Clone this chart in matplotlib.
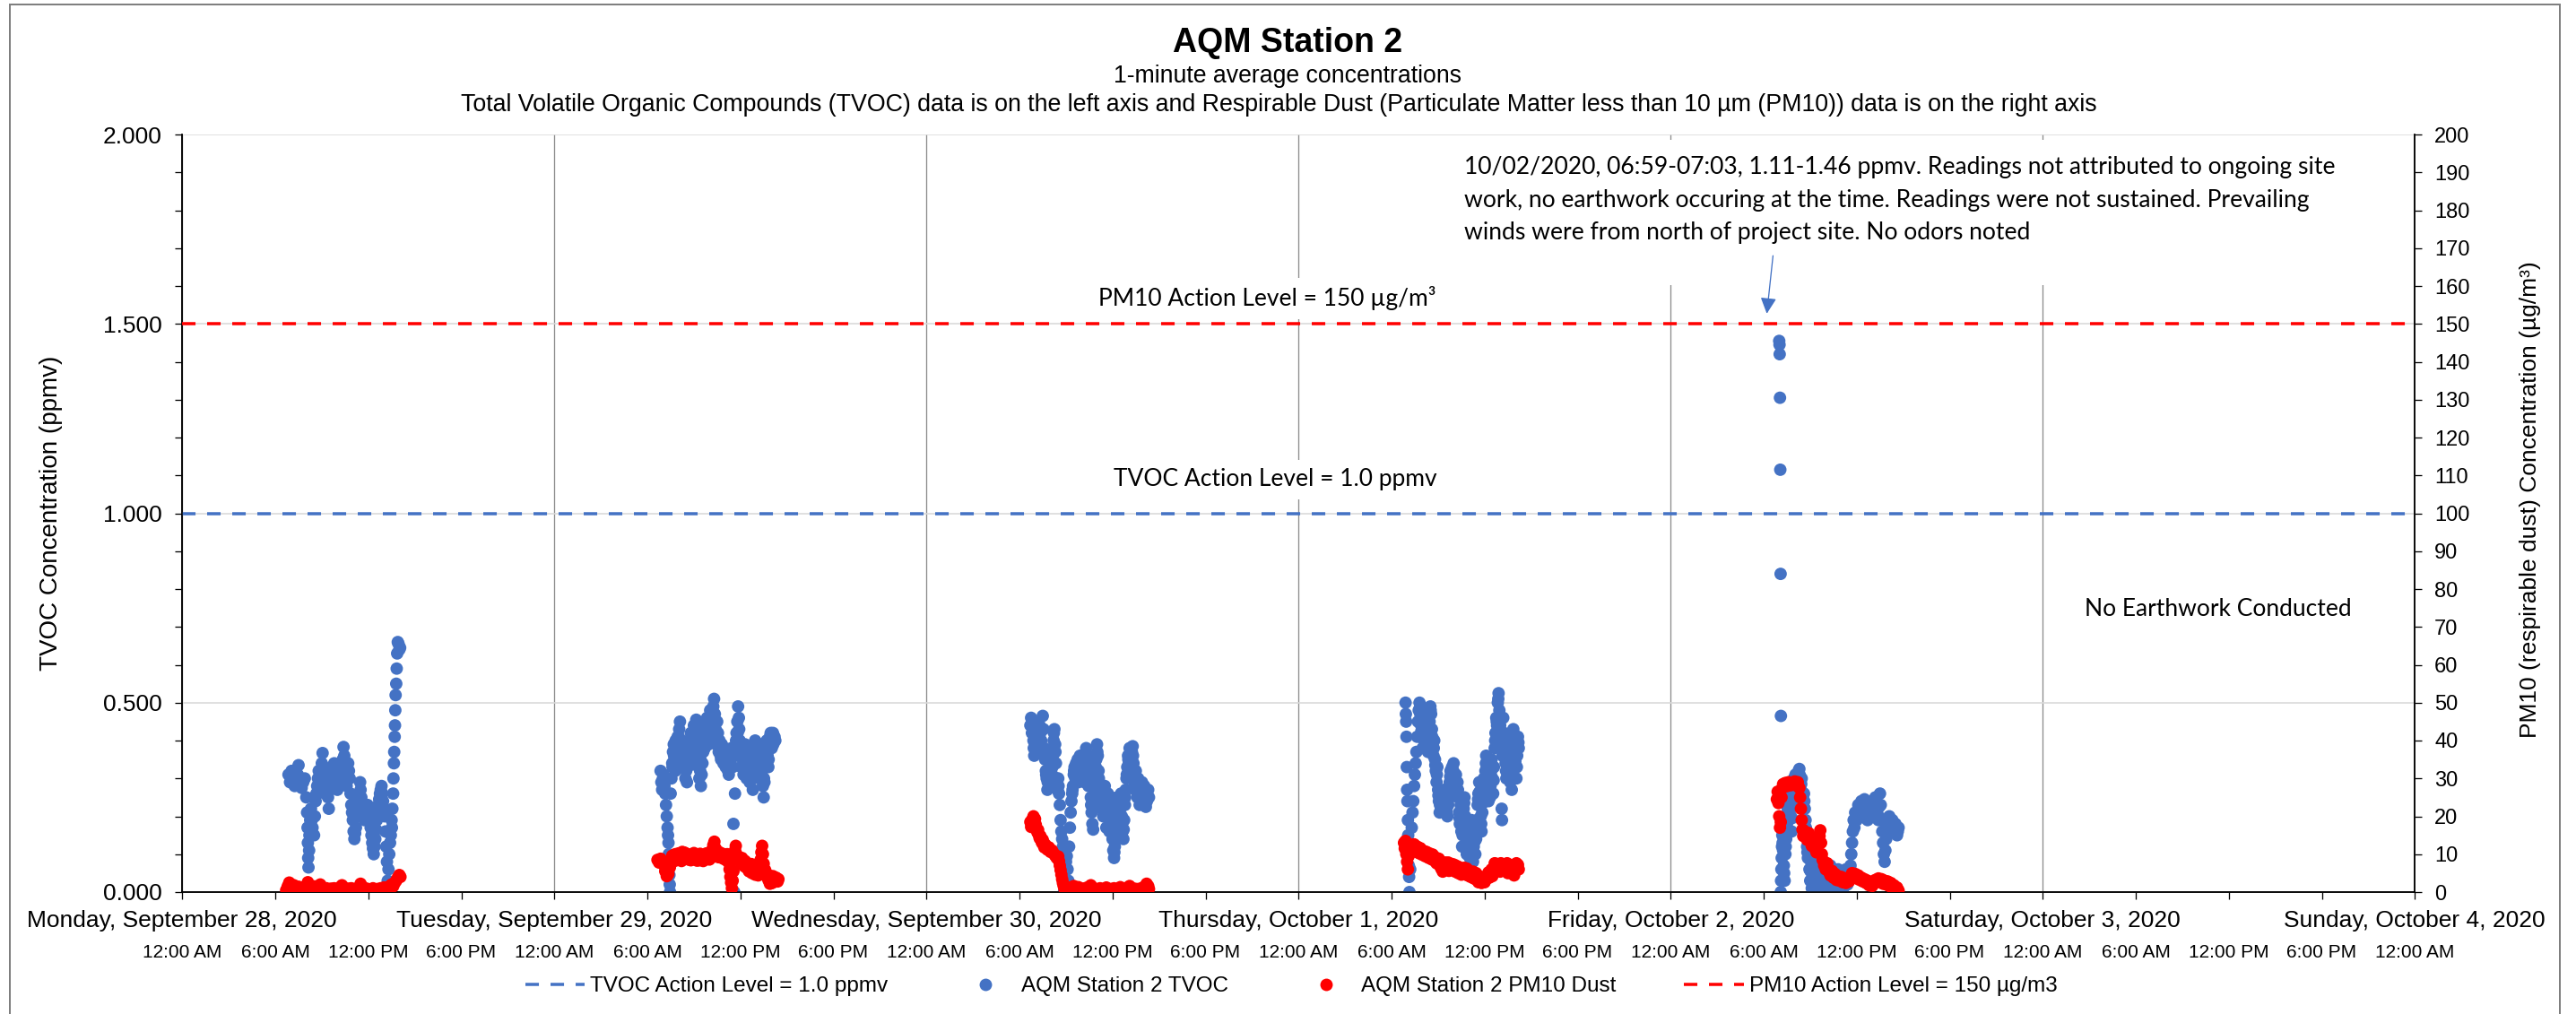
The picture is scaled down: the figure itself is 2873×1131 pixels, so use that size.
import matplotlib
matplotlib.use("Agg")
import matplotlib.pyplot as plt
from matplotlib.lines import Line2D
from matplotlib.patches import Rectangle
from matplotlib.ticker import MultipleLocator, FuncFormatter

# ---------------- data (hours since Mon 2020-09-28 00:00) ----------------
date_labels = ["Monday, September 28, 2020", "Tuesday, September 29, 2020",
               "Wednesday, September 30, 2020", "Thursday, October 1, 2020",
               "Friday, October 2, 2020", "Saturday, October 3, 2020",
               "Sunday, October 4, 2020"]
time_labels = ["12:00 AM", "6:00 AM", "12:00 PM", "6:00 PM"]

tvoc_action = 1.0      # ppmv
pm10_action = 150      # ug/m3

mon_tvoc = [(6.85,0.31),(6.95,0.29),(7.05,0.32),(7.15,0.30),(7.25,0.28),(7.35,0.31),(7.5,0.335),(7.6,0.30),(7.7,0.275),(7.8,0.29),(7.9,0.30),(8.0,0.25),(8.05,0.21),(8.08,0.17),(8.1,0.13),(8.12,0.09),(8.14,0.065),(8.18,0.11),(8.2,0.15),(8.25,0.19),(8.3,0.22),(8.4,0.17),(8.5,0.15),(8.55,0.20),(8.6,0.24),(8.7,0.28),(8.8,0.32),(8.9,0.30),(9.0,0.34),(9.05,0.367),(9.1,0.33),(9.15,0.29),(9.2,0.26),(9.3,0.30),(9.4,0.25),(9.45,0.22),(9.5,0.27),(9.6,0.31),(9.7,0.28),(9.8,0.34),(9.9,0.30),(10.0,0.27),(10.1,0.31),(10.2,0.29),(10.3,0.33),(10.4,0.383),(10.45,0.36),(10.5,0.32),(10.6,0.28),(10.7,0.34),(10.8,0.30),(10.85,0.26),(10.9,0.23),(11.0,0.19),(11.05,0.16),(11.1,0.14),(11.2,0.17),(11.3,0.22),(11.4,0.26),(11.47,0.29),(11.55,0.25),(11.65,0.21),(11.75,0.19),(11.85,0.21),(11.95,0.23),(12.05,0.20),(12.15,0.17),(12.25,0.13),(12.35,0.10),(12.45,0.14),(12.55,0.19),(12.65,0.23),(12.75,0.26),(12.85,0.28),(12.95,0.24),(13.05,0.20),(13.1,0.16),(13.15,0.12),(13.2,0.08),(13.25,0.03),(13.3,0.06),(13.35,0.10),(13.45,0.15),(13.5,0.19),(13.55,0.22),(13.6,0.26),(13.62,0.30),(13.65,0.34),(13.67,0.37),(13.7,0.41),(13.72,0.44),(13.74,0.48),(13.76,0.52),(13.8,0.55),(13.83,0.59),(13.86,0.63),(13.9,0.66),(13.95,0.655),(14.0,0.64),(14.05,0.645)]
mon_tvoc_more = [(7.1,0.29),(7.3,0.295),(7.45,0.31),(7.65,0.29),(8.35,0.19),(8.45,0.20),(8.65,0.26),(8.75,0.30),(8.95,0.32),(9.12,0.31),(9.25,0.28),(9.35,0.27),(9.55,0.29),(9.65,0.33),(9.75,0.31),(9.85,0.32),(9.95,0.28),(10.05,0.29),(10.15,0.33),(10.25,0.31),(10.35,0.35),(10.55,0.30),(10.65,0.31),(10.75,0.32),(10.95,0.21),(11.15,0.155),(11.25,0.20),(11.35,0.24),(11.5,0.27),(11.6,0.23),(11.7,0.20),(11.8,0.20),(11.9,0.22),(12.0,0.215),(12.1,0.185),(12.2,0.15),(12.3,0.115),(12.4,0.12),(12.5,0.165),(12.6,0.21),(12.7,0.245),(12.8,0.27),(12.9,0.26),(13.0,0.22),(13.4,0.13),(13.52,0.17)]

tue_tvoc = [(30.85,0.32),(30.9,0.29),(30.95,0.27),(31.0,0.30),(31.05,0.31),(31.1,0.28),(31.15,0.26),(31.2,0.23),(31.25,0.20),(31.3,0.17),(31.33,0.15),(31.36,0.13),(31.38,0.10),(31.4,0.07),(31.42,0.045),(31.44,0.02),(31.46,0.0),(31.5,0.26),(31.55,0.30),(31.6,0.34),(31.65,0.37),(31.7,0.39),(31.75,0.35),(31.8,0.32),(31.85,0.38),(31.9,0.36),(31.95,0.41),(32.0,0.38),(32.05,0.43),(32.1,0.45),(32.15,0.40),(32.2,0.36),(32.25,0.38),(32.3,0.34),(32.35,0.37),(32.4,0.33),(32.45,0.30),(32.5,0.32),(32.55,0.29),(32.6,0.33),(32.65,0.37),(32.7,0.40),(32.75,0.36),(32.8,0.42),(32.85,0.39),(32.9,0.35),(32.95,0.41),(33.0,0.44),(33.05,0.40),(33.1,0.43),(33.15,0.455),(33.2,0.41),(33.25,0.36),(33.3,0.33),(33.35,0.30),(33.4,0.32),(33.45,0.28),(33.5,0.31),(33.55,0.34),(33.6,0.37),(33.65,0.41),(33.7,0.38),(33.75,0.44),(33.8,0.40),(33.85,0.46),(33.9,0.43),(33.95,0.39),(34.0,0.45),(34.05,0.48),(34.1,0.44),(34.15,0.41),(34.2,0.47),(34.25,0.49),(34.3,0.51),(34.35,0.47),(34.4,0.43),(34.45,0.39),(34.5,0.45),(34.55,0.42),(34.6,0.37),(34.65,0.40),(34.7,0.38),(34.75,0.35),(34.8,0.39),(34.85,0.37),(34.9,0.34),(34.95,0.38),(35.0,0.36),(35.05,0.33),(35.1,0.37),(35.15,0.35),(35.2,0.32),(35.25,0.31),(35.3,0.34),(35.35,0.37),(35.4,0.35),(35.5,0.33),(35.55,0.18),(35.6,0.0),(35.65,0.26),(35.7,0.38),(35.75,0.42),(35.8,0.45),(35.85,0.49),(35.9,0.46),(35.95,0.40),(36.0,0.36),(36.05,0.33),(36.1,0.38),(36.15,0.35),(36.2,0.31),(36.25,0.36),(36.3,0.39),(36.35,0.34),(36.4,0.30),(36.45,0.35),(36.5,0.38),(36.55,0.33),(36.6,0.29),(36.65,0.34),(36.7,0.37),(36.75,0.31),(36.8,0.27),(36.85,0.32),(36.9,0.36),(36.95,0.40),(37.0,0.37),(37.05,0.33),(37.1,0.38),(37.15,0.35),(37.2,0.30),(37.25,0.34),(37.3,0.39),(37.35,0.36),(37.4,0.32),(37.45,0.28),(37.5,0.25),(37.55,0.29),(37.6,0.33),(37.65,0.37),(37.7,0.40),(37.75,0.36),(37.8,0.33),(37.85,0.38),(37.9,0.41),(37.95,0.42),(38.0,0.40),(38.1,0.42),(38.2,0.41),(38.25,0.40)]
tue_tvoc_more = [(31.62,0.33),(31.72,0.36),(31.82,0.40),(31.92,0.37),(32.02,0.41),(32.12,0.38),(32.22,0.40),(32.32,0.36),(32.42,0.38),(32.52,0.35),(32.62,0.39),(32.72,0.37),(32.82,0.40),(32.92,0.38),(33.02,0.41),(33.12,0.39),(33.22,0.38),(33.32,0.36),(33.42,0.35),(33.52,0.37),(33.62,0.39),(33.72,0.41),(33.82,0.43),(33.92,0.41),(34.02,0.42),(34.12,0.40),(34.22,0.44),(34.32,0.45),(34.42,0.41),(34.52,0.40),(34.62,0.39),(34.72,0.36),(34.82,0.37),(34.92,0.36),(35.02,0.35),(35.12,0.34),(35.22,0.36),(35.32,0.36),(35.42,0.38),(35.72,0.40),(35.82,0.42),(35.92,0.43),(36.02,0.38),(36.12,0.36),(36.22,0.34),(36.32,0.37),(36.42,0.33),(36.52,0.36),(36.62,0.32),(36.72,0.35),(36.82,0.30),(36.92,0.34),(37.02,0.35),(37.12,0.36),(37.22,0.33),(37.32,0.37),(37.42,0.34),(37.52,0.30),(37.62,0.35),(37.72,0.38),(37.82,0.35),(37.92,0.39),(38.02,0.38),(38.12,0.39)]

wed_tvoc = [(54.7,0.44),(54.75,0.46),(54.8,0.42),(54.85,0.45),(54.9,0.40),(54.95,0.36),(55.0,0.39),(55.05,0.43),(55.1,0.41),(55.15,0.38),(55.2,0.42),(55.3,0.44),(55.4,0.40),(55.5,0.465),(55.55,0.43),(55.6,0.38),(55.65,0.35),(55.7,0.32),(55.75,0.30),(55.8,0.27),(55.85,0.31),(55.9,0.35),(55.95,0.33),(56.0,0.37),(56.05,0.34),(56.1,0.31),(56.15,0.36),(56.2,0.40),(56.25,0.43),(56.3,0.39),(56.35,0.34),(56.4,0.30),(56.45,0.27),(56.5,0.30),(56.55,0.26),(56.6,0.23),(56.65,0.19),(56.7,0.16),(56.75,0.14),(56.8,0.12),(56.85,0.05),(56.87,0.0),(56.9,0.03),(56.95,0.10),(57.0,0.08),(57.05,0.095),(57.1,0.06),(57.15,0.03),(57.2,0.12),(57.25,0.17),(57.3,0.21),(57.35,0.24),(57.4,0.26),(57.45,0.28),(57.5,0.31),(57.55,0.33),(57.6,0.30),(57.65,0.34),(57.7,0.32),(57.75,0.35),(57.8,0.29),(57.85,0.33),(57.9,0.36),(57.95,0.31),(58.0,0.34),(58.05,0.30),(58.1,0.35),(58.15,0.33),(58.2,0.29),(58.25,0.34),(58.3,0.38),(58.35,0.35),(58.4,0.31),(58.45,0.28),(58.5,0.32),(58.55,0.29),(58.6,0.25),(58.65,0.21),(58.7,0.18),(58.75,0.165),(58.8,0.22),(58.85,0.27),(58.9,0.31),(58.95,0.35),(59.0,0.39),(59.05,0.36),(59.1,0.32),(59.15,0.28),(59.2,0.24),(59.25,0.27),(59.3,0.22),(59.35,0.26),(59.4,0.20),(59.45,0.24),(59.5,0.28),(59.55,0.21),(59.6,0.17),(59.65,0.23),(59.7,0.26),(59.75,0.20),(59.8,0.16),(59.85,0.22),(59.9,0.25),(59.95,0.19),(60.0,0.14),(60.05,0.11),(60.1,0.09),(60.15,0.12),(60.2,0.16),(60.25,0.21),(60.3,0.25),(60.35,0.19),(60.4,0.23),(60.45,0.18),(60.5,0.22),(60.55,0.26),(60.6,0.20),(60.65,0.16),(60.7,0.14),(60.75,0.19),(60.8,0.23),(60.85,0.27),(60.9,0.30),(60.95,0.33),(61.0,0.36),(61.05,0.34),(61.1,0.38),(61.15,0.35),(61.2,0.31),(61.25,0.37),(61.3,0.385),(61.35,0.34),(61.4,0.30),(61.45,0.27),(61.5,0.32),(61.55,0.29),(61.6,0.25),(61.65,0.30),(61.7,0.27),(61.75,0.23),(61.8,0.28),(61.85,0.25),(61.9,0.29),(61.95,0.26),(62.0,0.23),(62.05,0.28),(62.1,0.25),(62.15,0.225),(62.2,0.26),(62.3,0.27),(62.35,0.25)]
wed_tvoc_more = [(54.82,0.44),(54.92,0.38),(55.02,0.41),(55.12,0.40),(55.25,0.43),(55.35,0.42),(55.45,0.43),(55.62,0.36),(55.72,0.31),(55.82,0.29),(55.92,0.34),(56.02,0.35),(56.12,0.33),(56.22,0.42),(56.32,0.37),(56.42,0.29),(56.52,0.28),(57.42,0.27),(57.52,0.32),(57.62,0.32),(57.72,0.33),(57.82,0.31),(57.92,0.34),(58.02,0.32),(58.12,0.34),(58.22,0.31),(58.32,0.36),(58.42,0.29),(58.52,0.30),(58.62,0.23),(58.92,0.33),(59.02,0.37),(59.12,0.30),(59.22,0.26),(59.32,0.24),(59.42,0.22),(59.52,0.25),(59.62,0.20),(59.72,0.23),(59.82,0.19),(59.92,0.23),(60.02,0.17),(60.12,0.105),(60.22,0.18),(60.32,0.22),(60.42,0.21),(60.52,0.24),(60.62,0.18),(60.72,0.165),(60.82,0.25),(60.92,0.31),(61.02,0.35),(61.12,0.36),(61.22,0.34),(61.32,0.36),(61.42,0.285),(61.52,0.30),(61.62,0.275),(61.72,0.25),(61.82,0.265),(61.92,0.275),(62.02,0.255),(62.12,0.265),(62.22,0.24)]

thu_tvoc = [(78.9,0.50),(78.92,0.47),(78.94,0.45),(78.96,0.41),(78.98,0.33),(79.0,0.27),(79.02,0.24),(79.05,0.19),(79.07,0.15),(79.09,0.11),(79.11,0.07),(79.13,0.04),(79.15,0.0),(79.2,0.06),(79.25,0.12),(79.3,0.17),(79.35,0.21),(79.4,0.24),(79.45,0.28),(79.5,0.31),(79.55,0.34),(79.6,0.37),(79.65,0.41),(79.7,0.45),(79.75,0.48),(79.8,0.50),(79.85,0.47),(79.9,0.44),(79.95,0.41),(80.0,0.38),(80.05,0.43),(80.1,0.46),(80.15,0.42),(80.2,0.39),(80.25,0.44),(80.3,0.40),(80.35,0.37),(80.4,0.41),(80.45,0.45),(80.5,0.49),(80.55,0.47),(80.6,0.43),(80.65,0.39),(80.7,0.36),(80.75,0.40),(80.8,0.35),(80.85,0.32),(80.9,0.29),(80.95,0.33),(81.0,0.27),(81.05,0.24),(81.1,0.21),(81.15,0.25),(81.2,0.22),(81.25,0.26),(81.3,0.23),(81.4,0.27),(81.5,0.23),(81.6,0.20),(81.65,0.23),(81.7,0.26),(81.75,0.29),(81.8,0.32),(81.85,0.29),(81.9,0.33),(81.95,0.30),(82.0,0.34),(82.05,0.31),(82.1,0.28),(82.15,0.31),(82.2,0.27),(82.25,0.29),(82.3,0.25),(82.35,0.21),(82.4,0.18),(82.45,0.23),(82.5,0.16),(82.55,0.12),(82.6,0.18),(82.65,0.22),(82.7,0.25),(82.75,0.20),(82.8,0.15),(82.85,0.10),(82.9,0.14),(82.95,0.18),(83.0,0.12),(83.05,0.09),(83.1,0.15),(83.15,0.19),(83.2,0.13),(83.25,0.08),(83.3,0.12),(83.35,0.17),(83.4,0.10),(83.45,0.14),(83.5,0.19),(83.55,0.23),(83.6,0.26),(83.65,0.29),(83.7,0.24),(83.75,0.20),(83.8,0.16),(83.85,0.21),(83.9,0.26),(83.95,0.30),(84.0,0.27),(84.05,0.32),(84.1,0.36),(84.15,0.33),(84.2,0.29),(84.25,0.24),(84.3,0.28),(84.35,0.25),(84.4,0.31),(84.45,0.35),(84.5,0.30),(84.55,0.26),(84.6,0.33),(84.65,0.38),(84.7,0.42),(84.75,0.46),(84.8,0.44),(84.85,0.50),(84.9,0.525),(84.95,0.48),(85.0,0.44),(85.05,0.40),(85.1,0.22),(85.12,0.19),(85.15,0.36),(85.2,0.46),(85.25,0.42),(85.3,0.38),(85.35,0.34),(85.4,0.30),(85.45,0.35),(85.5,0.31),(85.55,0.37),(85.6,0.33),(85.65,0.29),(85.7,0.35),(85.75,0.27),(85.8,0.39),(85.85,0.43),(85.9,0.40),(85.95,0.36),(86.0,0.33),(86.05,0.30),(86.1,0.36),(86.15,0.41),(86.2,0.38)]
thu_tvoc_more = [(79.82,0.485),(79.92,0.425),(80.02,0.405),(80.12,0.44),(80.22,0.415),(80.32,0.385),(80.42,0.43),(80.52,0.48),(80.62,0.41),(80.72,0.38),(80.82,0.335),(80.92,0.31),(81.02,0.255),(81.12,0.23),(81.22,0.24),(81.35,0.25),(81.45,0.25),(81.55,0.215),(81.68,0.245),(81.78,0.305),(81.88,0.31),(81.98,0.32),(82.08,0.295),(82.18,0.29),(82.28,0.27),(82.38,0.195),(82.48,0.195),(82.58,0.15),(82.68,0.235),(82.78,0.175),(82.88,0.12),(82.98,0.15),(83.08,0.12),(83.18,0.16),(83.28,0.10),(83.38,0.135),(83.48,0.165),(83.58,0.245),(83.68,0.265),(83.78,0.18),(83.88,0.235),(83.98,0.285),(84.08,0.34),(84.18,0.31),(84.28,0.26),(84.38,0.28),(84.48,0.325),(84.58,0.295),(84.68,0.40),(84.78,0.45),(84.88,0.51),(84.98,0.46),(85.18,0.41),(85.28,0.40),(85.38,0.32),(85.48,0.33),(85.58,0.35),(85.68,0.32),(85.78,0.33),(85.88,0.415),(85.98,0.345),(86.08,0.33),(86.18,0.395)]

fri_tvoc = [(103.0,1.455),(103.02,1.445),(103.03,1.42),(103.05,1.305),(103.07,1.115),(103.09,0.84),(103.11,0.465),(103.1,0.0),(103.12,0.03),(103.14,0.06),(103.16,0.09),(103.18,0.12),(103.2,0.15),(103.25,0.11),(103.3,0.07),(103.35,0.03),(103.4,0.10),(103.45,0.14),(103.5,0.18),(103.55,0.22),(103.6,0.25),(103.65,0.27),(103.7,0.24),(103.75,0.20),(103.8,0.16),(103.85,0.23),(103.9,0.27),(103.95,0.30),(104.0,0.27),(104.05,0.31),(104.1,0.28),(104.15,0.25),(104.2,0.29),(104.25,0.32),(104.3,0.325),(104.35,0.30),(104.4,0.27),(104.45,0.30),(104.5,0.26),(104.55,0.23),(104.6,0.26),(104.65,0.22),(104.7,0.19),(104.75,0.15),(104.8,0.12),(104.85,0.09),(104.9,0.13),(104.95,0.06),(105.0,0.03),(105.05,0.08),(105.1,0.01),(105.15,0.05),(105.2,0.09),(105.25,0.03),(105.3,0.06),(105.35,0.0),(105.4,0.04),(105.5,0.07),(105.6,0.02),(105.7,0.05),(105.8,0.0),(105.9,0.03),(106.0,0.06),(106.1,0.01),(106.2,0.04),(106.3,0.07),(106.4,0.02),(106.5,0.05),(106.6,0.0),(106.7,0.03),(106.8,0.06),(106.9,0.02),(107.0,0.05),(107.1,0.0),(107.2,0.03),(107.3,0.06),(107.4,0.02),(107.5,0.04),(107.6,0.07),(107.65,0.10),(107.7,0.13),(107.75,0.16),(107.8,0.19),(107.85,0.17),(107.9,0.21),(108.0,0.19),(108.1,0.23),(108.2,0.20),(108.3,0.24),(108.4,0.21),(108.5,0.245),(108.6,0.22),(108.7,0.19),(108.8,0.23),(108.9,0.21),(109.0,0.24),(109.1,0.20),(109.2,0.25),(109.3,0.22),(109.4,0.19),(109.5,0.26),(109.55,0.23),(109.6,0.19),(109.65,0.16),(109.7,0.13),(109.75,0.10),(109.8,0.08),(109.85,0.11),(109.9,0.14),(110.0,0.17),(110.1,0.20),(110.2,0.17),(110.3,0.19),(110.4,0.16),(110.5,0.18),(110.6,0.15),(110.7,0.17)]
fri_tvoc_more = [(103.22,0.13),(103.32,0.05),(103.42,0.12),(103.52,0.20),(103.62,0.26),(103.72,0.22),(103.82,0.195),(103.92,0.285),(104.02,0.29),(104.12,0.265),(104.22,0.305),(104.32,0.31),(104.42,0.285),(104.52,0.245),(104.62,0.24),(104.72,0.17),(104.82,0.105),(104.92,0.095),(105.02,0.055),(105.45,0.05),(105.55,0.045),(105.75,0.025),(105.95,0.045),(106.15,0.025),(106.35,0.045),(106.55,0.025),(106.75,0.045),(106.95,0.035),(107.15,0.015),(107.35,0.04),(107.55,0.055),(107.95,0.20),(108.05,0.21),(108.15,0.215),(108.25,0.22),(108.35,0.225),(108.45,0.23),(108.55,0.23),(108.65,0.205),(108.75,0.21),(108.85,0.22),(108.95,0.225),(109.05,0.22),(109.15,0.225),(109.25,0.235),(109.35,0.205),(109.45,0.225),(110.05,0.185),(110.15,0.185),(110.25,0.18),(110.35,0.175),(110.45,0.17),(110.55,0.165),(110.65,0.16)]

mon_pm10 = [(6.7,0.5),(6.8,1.5),(6.9,2.5),(7.0,2.0),(7.1,1.0),(7.2,1.8),(7.3,1.2),(7.4,0.6),(7.5,1.4),(7.6,1.0),(7.7,0.4),(7.8,1.2),(7.9,0.8),(8.0,1.6),(8.1,2.6),(8.2,1.8),(8.3,1.0),(8.4,0.5),(8.5,1.5),(8.6,1.1),(8.7,0.6),(8.8,1.2),(8.9,2.0),(9.0,1.4),(9.1,0.8),(9.2,0.4),(9.3,1.0),(9.4,0.6),(9.5,0.3),(9.6,0.9),(9.7,0.5),(9.8,1.0),(9.9,0.6),(10.0,0.3),(10.1,0.8),(10.2,1.3),(10.3,1.8),(10.4,1.2),(10.5,0.7),(10.6,0.3),(10.7,0.9),(10.8,0.5),(10.9,1.0),(11.0,0.4),(11.1,0.8),(11.2,0.3),(11.3,0.7),(11.4,1.2),(11.5,2.2),(11.6,1.5),(11.7,0.8),(11.8,0.4),(11.9,0.9),(12.0,0.5),(12.1,0.2),(12.2,0.6),(12.3,1.0),(12.4,0.5),(12.5,0.3),(12.6,0.8),(12.7,0.4),(12.8,1.0),(12.9,0.6),(13.0,1.2),(13.1,0.8),(13.2,0.5),(13.3,1.3),(13.4,1.6),(13.5,2.0),(13.6,1.5),(13.7,2.4),(13.8,3.0),(13.9,3.8),(14.0,4.5),(14.07,4.0)]

tue_pm10 = [(30.65,8.5),(30.75,7.8),(30.85,8.8),(30.95,8.0),(31.05,7.2),(31.15,5.5),(31.25,4.2),(31.35,4.8),(31.45,6.5),(31.55,8.2),(31.65,8.8),(31.75,8.2),(31.85,9.0),(31.95,9.6),(32.05,8.8),(32.15,9.8),(32.25,10.6),(32.35,9.5),(32.45,8.9),(32.55,9.4),(32.65,8.6),(32.75,9.2),(32.85,9.8),(32.95,9.0),(33.05,8.7),(33.15,9.5),(33.25,9.1),(33.35,8.4),(33.45,9.0),(33.55,9.6),(33.65,9.2),(33.75,8.8),(33.85,9.5),(33.95,10.2),(34.05,9.4),(34.15,11.0),(34.25,12.4),(34.32,13.3),(34.4,11.5),(34.5,10.0),(34.6,9.2),(34.7,9.8),(34.8,9.0),(34.9,9.4),(35.0,8.6),(35.1,9.2),(35.2,8.0),(35.3,6.0),(35.35,4.0),(35.4,2.5),(35.45,1.0),(35.5,3.0),(35.55,5.5),(35.6,8.5),(35.65,11.0),(35.7,12.2),(35.75,10.0),(35.85,8.5),(35.95,9.0),(36.05,7.5),(36.15,8.0),(36.25,6.8),(36.35,7.5),(36.45,6.2),(36.55,5.5),(36.65,6.5),(36.75,5.0),(36.85,5.8),(36.95,4.6),(37.05,5.4),(37.15,4.4),(37.25,6.0),(37.3,8.5),(37.35,10.5),(37.4,12.2),(37.45,10.0),(37.5,7.5),(37.6,5.8),(37.7,4.5),(37.8,3.2),(37.9,2.2),(38.0,3.0),(38.1,4.2),(38.2,3.0),(38.3,3.8),(38.4,2.8),(38.45,3.4)]
tue_pm10_more = [(31.6,9.6),(31.8,10.0),(32.0,10.2),(32.2,8.2),(32.4,10.4),(32.6,10.0),(32.8,8.4),(33.0,10.3),(33.2,8.3),(33.4,10.1),(33.6,8.2),(33.8,10.2),(34.0,8.6),(34.2,10.4),(34.4,9.4),(34.6,10.6),(34.8,10.2),(35.0,9.8),(35.15,10.0),(36.1,9.0),(36.3,8.2),(36.5,7.0),(36.7,7.4),(36.9,6.2),(37.1,6.4),(37.2,5.0),(37.65,4.6),(37.85,4.4),(38.05,2.4)]

wed_pm10 = [(54.7,18.5),(54.75,17.2),(54.8,19.0),(54.9,20.0),(55.0,19.3),(55.05,17.8),(55.1,16.5),(55.15,15.8),(55.2,16.4),(55.25,15.0),(55.3,14.2),(55.35,14.8),(55.4,13.6),(55.45,13.0),(55.5,13.8),(55.55,12.5),(55.6,11.8),(55.65,12.6),(55.7,12.0),(55.8,11.2),(55.9,11.8),(56.0,10.6),(56.1,11.0),(56.2,10.2),(56.3,9.6),(56.4,9.0),(56.5,9.4),(56.55,8.2),(56.6,7.0),(56.65,5.8),(56.7,4.6),(56.75,3.4),(56.8,2.4),(56.85,1.6),(56.9,0.8),(57.0,1.4),(57.1,0.5),(57.2,1.0),(57.3,0.3),(57.4,0.9),(57.5,1.6),(57.6,1.2),(57.7,0.6),(57.8,1.3),(57.9,0.8),(58.0,0.3),(58.1,0.9),(58.2,0.5),(58.3,1.1),(58.4,0.6),(58.5,1.4),(58.6,1.8),(58.7,1.2),(58.8,0.7),(58.9,0.3),(59.0,0.8),(59.1,0.4),(59.2,1.0),(59.3,0.5),(59.4,0.2),(59.5,0.7),(59.6,1.2),(59.7,0.6),(59.8,0.3),(59.9,0.8),(60.0,0.4),(60.1,1.0),(60.2,0.6),(60.3,0.3),(60.4,0.9),(60.5,1.3),(60.6,0.7),(60.7,0.4),(60.8,1.0),(60.9,0.6),(61.0,1.2),(61.1,1.6),(61.2,1.0),(61.3,0.5),(61.4,0.9),(61.5,0.4),(61.6,0.8),(61.7,0.3),(61.8,0.7),(61.9,1.1),(62.0,0.6),(62.1,1.5),(62.2,2.2),(62.3,1.6),(62.35,0.8)]

thu_pm10 = [(78.8,13.0),(78.85,11.5),(78.9,13.5),(78.95,10.0),(79.0,8.0),(79.05,6.0),(79.1,9.5),(79.15,12.5),(79.2,11.8),(79.3,12.4),(79.4,11.2),(79.5,11.8),(79.6,10.6),(79.7,11.2),(79.8,10.2),(79.9,10.8),(80.0,9.8),(80.1,10.4),(80.2,9.4),(80.3,9.9),(80.4,9.0),(80.5,9.5),(80.6,8.6),(80.7,9.0),(80.8,8.2),(80.9,7.6),(81.0,8.0),(81.1,7.0),(81.2,6.2),(81.3,5.4),(81.4,6.6),(81.5,7.4),(81.6,6.4),(81.7,5.6),(81.8,6.8),(81.9,7.4),(82.0,6.2),(82.1,5.4),(82.2,6.4),(82.3,5.0),(82.4,5.8),(82.5,4.6),(82.6,5.6),(82.7,6.4),(82.8,5.2),(82.9,4.4),(83.0,5.4),(83.1,4.0),(83.2,4.8),(83.3,3.6),(83.4,4.4),(83.5,3.2),(83.6,2.6),(83.7,3.4),(83.8,2.4),(83.9,3.0),(84.0,2.6),(84.1,3.6),(84.2,4.4),(84.3,3.8),(84.4,5.0),(84.5,4.2),(84.6,5.8),(84.7,6.8),(84.8,7.4),(84.9,6.4),(85.0,5.4),(85.1,6.6),(85.2,7.2),(85.3,5.8),(85.4,6.8),(85.5,5.0),(85.6,6.2),(85.7,7.0),(85.8,5.6),(85.9,4.4),(86.0,5.6),(86.1,6.6),(86.15,7.2),(86.2,6.0)]
thu_pm10_more = [(79.25,10.8),(79.45,12.6),(79.65,12.0),(79.85,11.6),(80.05,10.9),(80.25,10.6),(80.45,10.2),(80.65,9.9),(80.85,9.1),(81.05,8.8),(81.25,7.4),(81.45,7.8),(81.65,7.8),(81.85,6.0),(82.05,7.2),(82.25,6.8),(82.45,6.4),(82.65,5.0),(82.85,6.2),(83.05,4.6),(83.25,5.4),(83.45,5.0),(83.65,4.2),(83.85,3.6),(84.05,3.4),(84.25,5.2),(84.45,6.0),(84.65,7.6),(84.85,6.8),(85.05,7.6),(85.25,6.4),(85.45,7.6),(85.65,5.6),(85.85,6.8),(86.05,7.6)]

fri_pm10 = [(102.85,24.5),(102.9,26.5),(102.95,23.5),(103.0,20.0),(103.05,17.0),(103.1,18.5),(103.15,25.0),(103.2,27.5),(103.25,28.5),(103.3,27.8),(103.4,28.8),(103.5,28.0),(103.6,29.0),(103.7,28.2),(103.8,28.9),(103.9,28.3),(104.0,29.2),(104.1,28.6),(104.2,29.0),(104.3,27.5),(104.35,25.0),(104.4,22.0),(104.45,19.0),(104.5,16.5),(104.55,14.8),(104.6,16.2),(104.7,15.0),(104.8,13.8),(104.9,15.6),(105.0,14.0),(105.1,12.2),(105.2,13.5),(105.3,11.5),(105.4,10.5),(105.5,12.6),(105.6,14.8),(105.65,16.3),(105.7,13.0),(105.75,10.0),(105.8,8.5),(105.9,7.0),(106.0,6.0),(106.1,7.6),(106.2,5.4),(106.3,4.4),(106.4,5.6),(106.5,3.8),(106.6,4.8),(106.7,3.2),(106.8,4.2),(106.9,3.0),(107.0,4.0),(107.1,2.6),(107.2,3.6),(107.3,2.4),(107.4,3.4),(107.5,2.8),(107.6,4.2),(107.7,5.0),(107.8,4.0),(107.9,4.8),(108.0,3.6),(108.1,4.4),(108.2,3.2),(108.3,3.8),(108.4,2.8),(108.5,3.4),(108.6,2.4),(108.7,3.0),(108.8,1.8),(108.9,2.6),(109.0,1.6),(109.1,2.4),(109.2,3.2),(109.3,2.6),(109.4,3.6),(109.5,2.8),(109.6,3.4),(109.7,2.2),(109.8,3.0),(109.9,2.0),(110.0,2.8),(110.1,1.6),(110.2,2.4),(110.3,1.2),(110.4,1.8),(110.5,0.8),(110.6,1.2),(110.7,0.4)]

tvoc_days = [mon_tvoc, mon_tvoc_more, tue_tvoc, tue_tvoc_more, wed_tvoc, wed_tvoc_more,
             thu_tvoc, thu_tvoc_more, fri_tvoc, fri_tvoc_more]
pm10_days = [mon_pm10, tue_pm10, tue_pm10_more, wed_pm10, thu_pm10, thu_pm10_more, fri_pm10]

# ---------------- styling ----------------
BLUE = "#4472C4"
RED = "#FF0000"
MAIN_FONT = "Liberation Sans"
BOX_FONT = "Lato"
plt.rcParams["font.family"] = [MAIN_FONT, "DejaVu Sans"]

W, H = 2873, 1131
DPI = 100
PX = 72.0 / DPI   # points per pixel

fig = plt.figure(figsize=(W / DPI, H / DPI), dpi=DPI)
fig.patch.set_facecolor("white")
L, R, T, B = 203.3, 2693.3, 150, 995
PXH = (R - L) / 144.0      # pixels per hour
PXV = (B - T) / 2.0        # pixels per ppmv
ax = fig.add_axes([L / W, 1 - B / H, (R - L) / W, (B - T) / H])
ax2 = ax.twinx()

ax.set_xlim(0, 144)
ax.set_ylim(0, 2.0)
ax2.set_ylim(0, 200)

# ticks
ax.xaxis.set_major_locator(MultipleLocator(24))
ax.xaxis.set_minor_locator(MultipleLocator(6))
ax.yaxis.set_major_locator(MultipleLocator(0.5))
ax.yaxis.set_minor_locator(MultipleLocator(0.1))
ax2.yaxis.set_major_locator(MultipleLocator(10))
ax.tick_params(axis="x", which="both", direction="out", length=8 * PX, width=1.3 * PX, color="black",
               labelbottom=False)
ax.tick_params(axis="y", which="both", direction="out", length=8 * PX, width=1.3 * PX, color="black",
               labelsize=19, pad=10.5)
ax.yaxis.set_major_formatter(FuncFormatter(lambda v, p: f"{v:.3f}"))
ax2.tick_params(axis="y", direction="out", length=8 * PX, width=1.3 * PX, color="black", labelsize=17, pad=10)
ax2.yaxis.set_major_formatter(FuncFormatter(lambda v, p: f"{v:.0f}"))

for a in (ax, ax2):
    a.spines["top"].set_visible(False)
    for s in ("left", "right", "bottom"):
        a.spines[s].set_linewidth(1.5 * PX)
        a.spines[s].set_color("black")

# gridlines
ax.grid(axis="y", which="major", color="#D9D9D9", linewidth=1.6 * PX, zorder=0)
ax.grid(axis="x", which="major", color="#8C8C8C", linewidth=1.3 * PX, zorder=0)
ax.set_axisbelow(True)

# action levels
dash = (4.3, 3.7)
ax.axhline(tvoc_action, color=BLUE, linewidth=3.5 * PX, dashes=dash, zorder=3)
ax2.axhline(pm10_action, color=RED, linewidth=3.5 * PX, dashes=dash, zorder=3)

# scatter data
MS = 100
for day in tvoc_days:
    ax.scatter([p[0] for p in day], [p[1] for p in day], s=MS, color=BLUE, edgecolors="none", zorder=4)
for day in pm10_days:
    ax2.scatter([p[0] for p in day], [p[1] for p in day], s=MS, color=RED, edgecolors="none", zorder=4)

# x labels: dates at midnight, times every 6 h
for i, lab in enumerate(date_labels):
    ax.annotate(lab, xy=(i * 24, 0), xycoords=("data", "axes fraction"), xytext=(0, -32),
                textcoords="offset pixels", ha="center", va="center", fontsize=19)
for i in range(25):
    ax.annotate(time_labels[i % 4], xy=(i * 6, 0), xycoords=("data", "axes fraction"), xytext=(0, -67),
                textcoords="offset pixels", ha="center", va="center", fontsize=15)

# axis labels
fig.text(57 / W, 1 - 572 / H, "TVOC Concentration (ppmv)", rotation=90, ha="center", va="center", fontsize=20)
fig.text(2822 / W, 1 - 557 / H, "PM10 (respirable dust) Concentration (\u00b5g/m\u00b3)", rotation=90,
         ha="center", va="center", fontsize=19)

# titles
fig.text(0.5, 1 - 48 / H, "AQM Station 2", ha="center", va="center", fontsize=27, fontweight="bold")
fig.text(0.5, 1 - 85 / H, "1-minute average concentrations", ha="center", va="center", fontsize=19.2)
fig.text(0.4965, 1 - 117 / H,
         "Total Volatile Organic Compounds (TVOC) data is on the left axis and Respirable Dust "
         "(Particulate Matter less than 10 \u00b5m (PM10)) data is on the right axis",
         ha="center", va="center", fontsize=19.3)

# text boxes (white background hides gridlines)
BOXFS = 19
box = dict(boxstyle="square,pad=0.35", facecolor="white", edgecolor="none")
ax.text(70.0, 1.567, "PM10 Action Level = 150 \u00b5g/m\u00b3", ha="center", va="center", fontsize=BOXFS,
        family=[BOX_FONT, "DejaVu Sans"], bbox=box, zorder=5)
ax.text(70.5, 1.089, "TVOC Action Level = 1.0 ppmv", ha="center", va="center", fontsize=BOXFS,
        family=[BOX_FONT, "DejaVu Sans"], bbox=box, zorder=5)
ax.text(131.3, 0.746, "No Earthwork Conducted", ha="center", va="center", fontsize=BOXFS,
        family=[BOX_FONT, "DejaVu Sans"], bbox=box, zorder=5)
ax.add_patch(Rectangle((81.9, 1.602), 139.8 - 81.9, 1.985 - 1.602, facecolor="white", edgecolor="none", zorder=2))
ax.text((1633 - L) / PXH, (B - 174) / PXV,
        "10/02/2020, 06:59-07:03, 1.11-1.46 ppmv. Readings not attributed to ongoing site\n"
        "work, no earthwork occuring at the time. Readings were not sustained. Prevailing\n"
        "winds were from north of project site. No odors noted",
        ha="left", va="top", fontsize=19.1, linespacing=1.58, family=[BOX_FONT, "DejaVu Sans"], zorder=5)
ax.annotate("", xy=(102.2, 1.527), xytext=(102.6, 1.68),
            arrowprops=dict(arrowstyle="-|>,head_length=0.4,head_width=0.2", color=BLUE, lw=1.3 * PX,
                            mutation_scale=27, shrinkA=0, shrinkB=0), zorder=6)

# legend
handles = [
    Line2D([], [], color=BLUE, linewidth=3.5 * PX, dashes=dash),
    Line2D([], [], color=BLUE, marker="o", linestyle="none", markersize=10, markeredgewidth=0),
    Line2D([], [], color=RED, marker="o", linestyle="none", markersize=10, markeredgewidth=0),
    Line2D([], [], color=RED, linewidth=3.5 * PX, dashes=dash),
]
labels = ["TVOC Action Level = 1.0 ppmv", "AQM Station 2 TVOC", "AQM Station 2 PM10 Dust",
          "PM10 Action Level = 150 \u00b5g/m3"]
fig.legend(handles, labels, loc="center", bbox_to_anchor=(1440 / W, 1 - 1100 / H), ncol=4, frameon=False,
           fontsize=17.5, handlelength=2.75, handletextpad=0.25, columnspacing=3.1, borderpad=0)

# outer border
fig.patches.append(Rectangle((11 / W, -0.02), (2855 - 11) / W, 1.02 - 5 / H, transform=fig.transFigure,
                             fill=False, edgecolor="#7F7F7F", linewidth=2 * PX))

fig.savefig("out.png", dpi=DPI, facecolor="white")
